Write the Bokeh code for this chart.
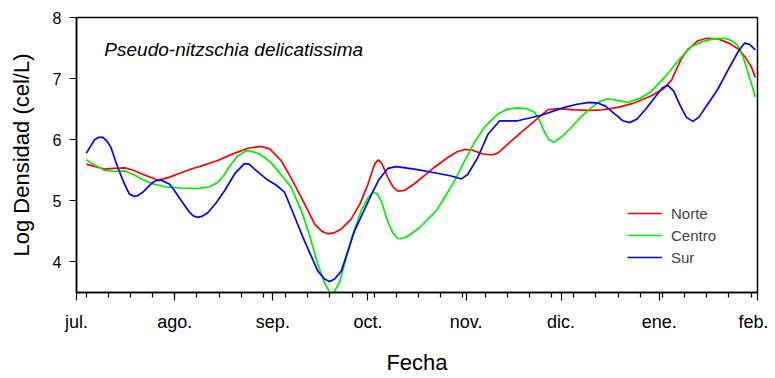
from bokeh.plotting import figure
from bokeh.models import FixedTicker, Label, Range1d
from bokeh.embed import file_html
from bokeh.resources import INLINE

# x = days since 1 July
month_ticks = [0, 31, 62, 92, 123, 153, 184, 215]
month_labels = ["jul.", "ago.", "sep.", "oct.", "nov.", "dic.", "ene.", "feb."]
week_ticks = [3 + 7 * i for i in range(31)]

norte_x = [3.1, 6, 8.8, 12, 15.2, 18, 21, 25.7, 29, 33, 36.2, 40, 44.6, 49, 54.1, 58.3, 61,
           64.6, 68, 72, 75.2, 77.5, 79.4, 81.5, 83.6, 86.7, 89.5, 92, 94.1, 95.3, 96.5, 98.3,
           100, 101.5, 103.5, 106.7, 110, 113, 117, 120, 122.5, 125, 128, 131, 133, 136,
           139.3, 144, 148.8, 152, 157, 162, 166, 170.9, 176, 181.5, 185, 187.8, 190.9,
           193, 196.2, 199, 202.5, 206, 208.8, 211, 213, 214.3]
norte_y = [5.60, 5.56, 5.52, 5.53, 5.54, 5.50, 5.43, 5.34, 5.38, 5.46, 5.52, 5.58, 5.66, 5.76,
           5.86, 5.89, 5.85, 5.66, 5.35, 4.95, 4.62, 4.50, 4.46, 4.48, 4.54, 4.70, 4.95, 5.27,
           5.60, 5.67, 5.60, 5.38, 5.22, 5.16, 5.17, 5.28, 5.42, 5.55, 5.70, 5.80, 5.84, 5.83,
           5.77, 5.75, 5.78, 5.92, 6.07, 6.28, 6.49, 6.51, 6.49, 6.48, 6.49, 6.53, 6.60, 6.72,
           6.82, 6.97, 7.32, 7.48, 7.62, 7.66, 7.65, 7.58, 7.49, 7.36, 7.20, 7.02]

centro_x = [3.1, 6, 8.8, 12, 15.2, 18, 20.4, 24, 27.8, 33, 38.3, 42, 44.6, 46.5, 48.8, 51,
            53.6, 55.2, 57.5, 59.4, 61.5, 63.6, 65.5, 67.8, 71, 73.5, 76.2, 78.3, 80.6, 83,
            84.6, 87, 89.9, 92, 93.6, 95, 96.2, 98, 99.8, 101.5, 104, 108.3, 113.6, 116.5,
            119.4, 122.5, 125.7, 129, 133, 136, 139.3, 142, 144.6, 146.3, 147.8, 149.2,
            150.7, 153, 156.2, 159, 162, 165, 167.8, 171, 174.1, 178, 181.5, 186, 190.9,
            194, 197.3, 201, 204.6, 207, 208.8, 210.5, 212, 213.3, 214.3]
centro_y = [5.67, 5.58, 5.50, 5.48, 5.49, 5.43, 5.36, 5.28, 5.23, 5.21, 5.20, 5.23, 5.30, 5.42,
            5.60, 5.74, 5.82, 5.81, 5.77, 5.71, 5.62, 5.49, 5.37, 5.22, 4.84, 4.45, 3.96, 3.66,
            3.44, 3.66, 3.96, 4.42, 4.84, 5.05, 5.14, 5.11, 5.00, 4.70, 4.48, 4.38, 4.40, 4.56,
            4.84, 5.08, 5.33, 5.65, 5.96, 6.22, 6.42, 6.50, 6.52, 6.51, 6.45, 6.30, 6.12, 6.00,
            5.96, 6.04, 6.20, 6.36, 6.50, 6.62, 6.67, 6.64, 6.61, 6.68, 6.79, 7.04, 7.35,
            7.52, 7.60, 7.65, 7.66, 7.62, 7.54, 7.35, 7.10, 6.88, 6.70]

sur_x = [3.1, 5.7, 7, 8.3, 9.6, 10.9, 13, 15.2, 16.7, 18.3, 19.5, 20.9, 23.6, 25, 26.5, 28,
         29.4, 31, 33.1, 35.7, 37, 38.3, 39.8, 41.5, 44, 46.7, 49.9, 53, 54.5, 56.2, 58, 60.4,
         63, 65.7, 68, 72, 76.2, 78.3, 79.9, 81.5, 83.6, 87.8, 93.1, 95.5, 98.3, 101, 106.7,
         113, 118, 121.5, 123.5, 126.7, 129.9, 133.6, 136, 139.3, 146.7, 154.1, 158, 162,
         164.6, 167, 170, 172.5, 174.6, 177, 180, 183, 185, 186.7, 188.5, 190.5, 192.5,
         194.6, 196.5, 199, 202.5, 206, 209, 210.9, 212.5, 214.3]
sur_y = [5.78, 6.00, 6.04, 6.04, 5.98, 5.87, 5.55, 5.27, 5.11, 5.07, 5.09, 5.14, 5.28, 5.33,
         5.34, 5.31, 5.27, 5.16, 5.00, 4.81, 4.75, 4.73, 4.75, 4.81, 4.96, 5.16, 5.44, 5.61,
         5.60, 5.52, 5.44, 5.34, 5.26, 5.14, 4.85, 4.34, 3.85, 3.72, 3.68, 3.72, 3.85, 4.51,
         5.10, 5.35, 5.53, 5.56, 5.52, 5.46, 5.41, 5.36, 5.43, 5.71, 6.09, 6.31, 6.31, 6.31,
         6.40, 6.53, 6.58, 6.61, 6.60, 6.55, 6.42, 6.31, 6.28, 6.34, 6.52, 6.72, 6.85, 6.89,
         6.80, 6.57, 6.37, 6.30, 6.37, 6.56, 6.83, 7.17, 7.45, 7.58, 7.56, 7.47]

y_ticks = [4, 5, 6, 7, 8]

FONT = "Liberation Sans"

W, H = 768, 377
ML, MT, MR, MB = 76, 17, 11, 40

p = figure(width=W, height=H, output_backend="svg", toolbar_location=None,
           x_range=Range1d(0, 215), y_range=Range1d(3.5, 8),
           min_border_left=ML, min_border_top=MT, min_border_right=MR, min_border_bottom=MB)
p.grid.visible = False
p.outline_line_color = "black"
p.outline_line_width = 1.5
p.background_fill_color = "white"
p.border_fill_color = "white"

lw = 1.7
p.line(norte_x, norte_y, line_color="#ff0000", line_width=lw, legend_label="Norte")
p.line(centro_x, centro_y, line_color="#00ee00", line_width=lw, legend_label="Centro")
p.line(sur_x, sur_y, line_color="#0000ff", line_width=lw, legend_label="Sur")

xa = p.xaxis[0]
xa.ticker = FixedTicker(ticks=month_ticks, minor_ticks=week_ticks)
xa.major_label_overrides = {t: l for t, l in zip(month_ticks, month_labels)}
xa.major_tick_out = 8
xa.major_tick_in = 0
xa.minor_tick_out = 5
xa.minor_tick_in = 0
xa.major_label_standoff = 11
xa.axis_label = "Fecha"
xa.axis_label_standoff = 15

ya = p.yaxis[0]
ya.ticker = FixedTicker(ticks=y_ticks)
ya.major_tick_out = 7
ya.major_tick_in = 0
ya.minor_tick_out = 0
ya.minor_tick_in = 0
ya.major_label_standoff = 8
ya.axis_label = "Log Densidad (cel/L)"
ya.axis_label_standoff = 16

for ax in (xa, ya):
    ax.axis_line_color = "black"
    ax.axis_line_width = 1.5
    ax.major_tick_line_width = 1.2
    ax.minor_tick_line_width = 1.2
    ax.major_label_text_font = FONT
    ax.major_label_text_color = "black"
    ax.axis_label_text_font = FONT
    ax.axis_label_text_font_style = "normal"
    ax.axis_label_text_font_size = "22px"
    ax.axis_label_text_color = "black"
xa.major_label_text_font_size = "18px"
ya.major_label_text_font_size = "16px"

p.add_layout(Label(x=8.8, y=7.31, text="Pseudo-nitzschia delicatissima",
                   text_font=FONT, text_font_style="italic", text_font_size="19px",
                   text_color="black"))

lg = p.legend[0]
lg.location = (551, 25)
lg.border_line_color = None
lg.background_fill_alpha = 0
lg.padding = 0
lg.margin = 0
lg.spacing = 2
lg.label_height = 20
lg.glyph_height = 20
lg.glyph_width = 35
lg.label_standoff = 9
lg.label_text_font = FONT
lg.label_text_font_size = "15px"

open("out.html", "w").write(file_html(p, INLINE))
